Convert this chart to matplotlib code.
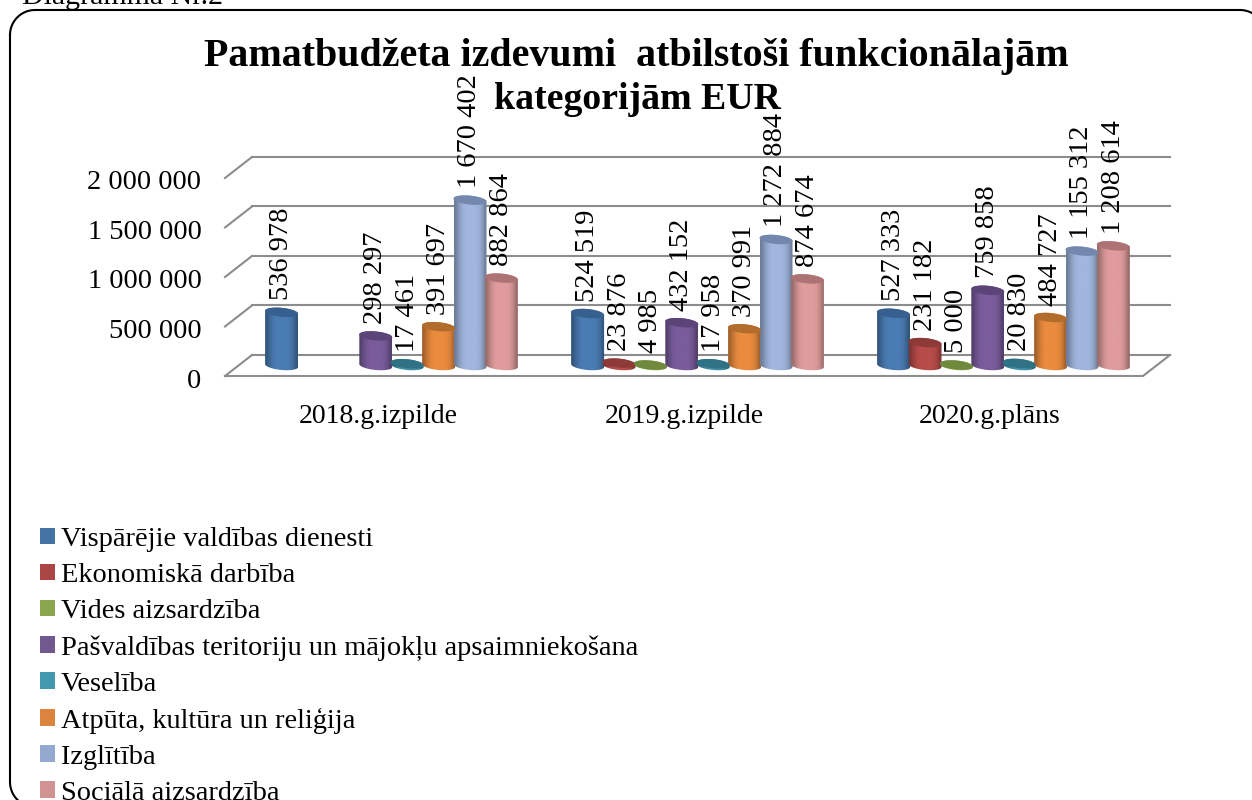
import matplotlib
matplotlib.use("Agg")
import matplotlib.pyplot as plt
from matplotlib.lines import Line2D
from matplotlib.patches import Patch, Polygon
from matplotlib.transforms import Affine2D
import numpy as np

years = ["2018.g.izpilde", "2019.g.izpilde", "2020.g.plāns"]
categories = ["Vispārējie valdības dienesti", "Ekonomiskā darbība", "Vides aizsardzība",
              "Pašvaldības teritoriju un mājokļu apsaimniekošana", "Veselība",
              "Atpūta, kultūra un reliģija", "Izglītība", "Sociālā aizsardzība"]
values_2018 = [536978, None, None, 298297, 17461, 391697, 1670402, 882864]
values_2019 = [524519, 23876, 4985, 432152, 17958, 370991, 1272884, 874674]
values_2020 = [527333, 231182, 5000, 759858, 20830, 484727, 1155312, 1208614]
y_ticks = [0, 500000, 1000000, 1500000, 2000000]

legend_colors = ["#4673a6", "#aa4643", "#89a54e", "#71588f", "#4198af", "#db843d", "#93a9cf", "#d19392"]
body_colors = ["#4a7cb4", "#b84c49", "#8fae50", "#7a5c9c", "#3f8fa8", "#ea8b3e", "#a0b6de", "#e09c9c"]
top_colors = ["#375f8f", "#8e3a38", "#6f8a3c", "#5b4478", "#2f7286", "#b26c2c", "#7488ad", "#ad7274"]

W, H = 1252, 800
FONT = "Liberation Serif"
plt.rcParams['font.family'] = FONT

fig = plt.figure(figsize=(W / 100, H / 100), dpi=100)

# front edge of the floor and the 2 000 000 level, in pixels
left, right, bottom, top = 225, 1143, 376, 178
ax = fig.add_axes([left / W, 1 - bottom / H, (right - left) / W, (bottom - top) / H])
ax.set_xlim(0, 3)
ax.set_ylim(0, 2000000)
ax.set_autoscale_on(False)
for s in ax.spines.values():
    s.set_visible(False)
ax.patch.set_alpha(0)

px_x = 3 / (right - left)  # data units per pixel
px_y = 2000000 / (bottom - top)
depth_x = 27 * px_x
depth_y = 21 * px_y
grid_col = "#8c8c8c"

# walls and floor
for t in y_ticks:
    ax.plot([depth_x, 3 + depth_x], [t + depth_y, t + depth_y], color=grid_col, lw=1.5, clip_on=False, zorder=1)
    ax.plot([0, depth_x], [t, t + depth_y], color=grid_col, lw=1.5, clip_on=False, zorder=1)
ax.plot([0, 3, 3 + depth_x], [0, 0, depth_y], color=grid_col, lw=1.5, clip_on=False, zorder=1)

ax.set_xticks([0.5, 1.5, 2.5])
ax.set_xticklabels(years, fontsize=20)
ax.set_yticks(y_ticks)
ax.set_yticklabels([f"{t:,}".replace(",", " ") for t in y_ticks], fontsize=20.5, va='center_baseline')
ax.tick_params(axis='x', length=0, pad=20.5)
ax.tick_params(axis='y', length=0, pad=17)
for lab in ax.get_yticklabels():
    lab.set_transform(lab.get_transform() + Affine2D().translate(0, -2))

bar_w = 33 * px_x
step = 31.4 * px_x
ell_h = 4.5 * px_y
tilt = 1.5 * px_y
shade = np.array([0.70, 0.84, 0.95, 1.0, 1.0, 1.0, 1.0, 0.97, 0.88, 0.70])


def cylinder(x, v, i, z):
    t = np.linspace(0, 2 * np.pi, 80)
    base_y = depth_y / 2
    a = bar_w / 2
    # silhouette: top half of the lid, bottom half of the base
    up = np.linspace(np.pi, 0, 40)
    low = np.linspace(0, -np.pi, 40)
    xs = np.r_[x + a * np.cos(up), x + a * np.cos(low)]
    ys = np.r_[base_y + v + ell_h * np.sin(up) - tilt * np.cos(up),
               base_y + ell_h * np.sin(low) - tilt * np.cos(low)]
    sil = Polygon(np.c_[xs, ys], closed=True, fc="none", ec="none", zorder=z)
    ax.add_patch(sil)
    base = np.array(matplotlib.colors.to_rgb(body_colors[i]))
    grad = np.clip(shade[:, None] * base, 0, 1)[None, :, :]
    im = ax.imshow(grad, extent=[x - a, x + a, base_y - 2 * ell_h, base_y + v + 2 * ell_h],
                   aspect='auto', interpolation='bilinear', zorder=z)
    im.set_clip_path(sil)
    lid = np.c_[x + a * np.cos(t), base_y + v + ell_h * np.sin(t) - tilt * np.cos(t)]
    ax.add_patch(Polygon(lid, closed=True, fc=top_colors[i], ec="none", zorder=z + 0.1))


for g, vals in enumerate([values_2018, values_2019, values_2020]):
    for i, v in enumerate(vals):
        if v is None:
            continue
        x = g + 0.5 + depth_x / 2 + (i - 3.5) * step
        cylinder(x, v, i, 2 + g + i * 0.01)
        ax.annotate(f"{v:,}".replace(",", " "), (x, v + depth_y / 2), xytext=(0, 12),
                    textcoords='offset pixels', rotation=90, ha='center', va='bottom',
                    fontsize=20.5, color="black", zorder=10, annotation_clip=False)

ax.set_xlim(0, 3)
ax.set_ylim(0, 2000000)

fig.text(636 / W, 1 - 66 / H, "Pamatbudžeta izdevumi  atbilstoši funkcionālajām", fontsize=28.8,
         fontweight='bold', ha='center', va='baseline')
fig.text(637 / W, 1 - 109 / H, "kategorijām EUR", fontsize=27.2, fontweight='bold', ha='center', va='baseline')
fig.text(22 / W, 1 - 4 / H, "Diagramma Nr.2", fontsize=21.5, ha='left', va='baseline')

handles = [Patch(fc=c, ec="none") for c in legend_colors]
fig.legend(handles, categories, loc='upper left', bbox_to_anchor=(40 / W, 1 - 527 / H), frameon=False,
           fontsize=20.4, handlelength=0.53, handleheight=0.53, handletextpad=0.21, labelspacing=0.39,
           borderpad=0, borderaxespad=0)

# frame of the chart area runs past the right and bottom edge of the page
r = 25
fx0, fx1, fy0, fy1 = 10, 1265, 10, 807  # pixels from top left
fx, fy = [], []
for cx, cy, a0 in [(fx0 + r, fy0 + r, 180), (fx1 - r, fy0 + r, 270), (fx1 - r, fy1 - r, 0), (fx0 + r, fy1 - r, 90)]:
    ang = np.radians(np.linspace(a0, a0 + 90, 20))
    fx += list(cx + r * np.cos(ang))
    fy += list(cy + r * np.sin(ang))
fx.append(fx[0])
fy.append(fy[0])
fig.add_artist(Line2D(np.array(fx) / W, 1 - np.array(fy) / H, color="black", lw=1.5, zorder=20))

fig.savefig("out.png", dpi=100)
